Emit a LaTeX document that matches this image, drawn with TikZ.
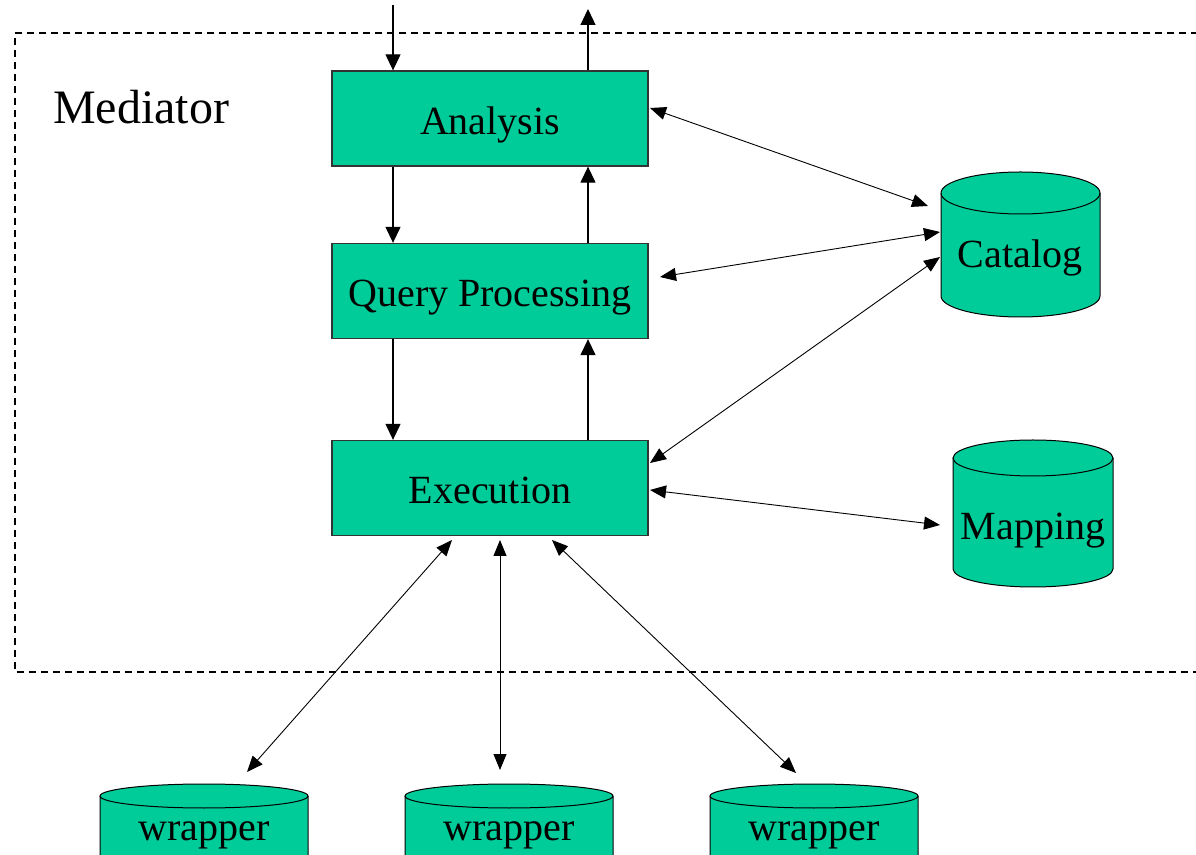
\documentclass[tikz,border=0pt]{standalone}
\usepackage{fontspec}
\setmainfont{Liberation Serif}
\usetikzlibrary{arrows.meta}
\definecolor{ppgreen}{HTML}{00CC99}
\newcommand\drumshape[5]{%
  \fill[ppgreen] (#1-#2,#4-#3) rectangle (#1+#2,#5+#3);
  \fill[ppgreen] (#1,#5+#3) ellipse[x radius=#2,y radius=#3];
  \fill[ppgreen] (#1,#4-#3) ellipse[x radius=#2,y radius=#3];
  \draw[line width=1pt] (#1-#2,#4-#3) -- (#1-#2,#5+#3)
     arc[start angle=180,end angle=360,x radius=#2,y radius=#3] -- (#1+#2,#4-#3);
  \draw[line width=1pt] (#1,#4-#3) ellipse[x radius=#2,y radius=#3];
}
\begin{document}
\begin{tikzpicture}[x=1pt,y=1pt,
  box/.style={draw=black!80, line width=1.3pt, fill=ppgreen, minimum width=316pt,
    minimum height=95pt, inner sep=0pt, font=\fontsize{40}{40}\selectfont,
    text height=32pt, text depth=0pt},
  lbl/.style={font=\fontsize{40}{40}\selectfont, anchor=base, inner sep=0pt},
  arr/.style={line width=1.2pt, -{Triangle[length=16pt,width=15pt]}},
  dbl/.style={line width=0.9pt, {Triangle[length=16pt,width=13pt]}-{Triangle[length=16pt,width=13pt]}}
]
\useasboundingbox (0,0) rectangle (1196,854);
\clip (0,0) rectangle (1196,854);

% mediator border
\draw[line width=1.1pt, dash pattern=on 7pt off 5pt] (1210,821) -- (15,821) -- (15,182) -- (1210,182);
\node[font=\fontsize{48}{48}\selectfont, anchor=base west, inner sep=0pt] (med) at (53,730) {Mediator};

% boxes
\node[box] (ana) at (490,735.5) {Analysis};
\node[box] (qp) at (490,563) {Query Processing};
\node[box] (exe) at (490,366) {Execution};

% cylinders
\drumshape{1020.5}{79.5}{21}{682}{537}
\node[lbl] (cat) at (1020,586) {Catalog};
\drumshape{1033}{80}{18}{414}{267}
\node[lbl] (map) at (1033,314) {Mapping};
\drumshape{204}{104}{12}{70}{-40}
\node[lbl] (w1) at (204,14) {wrapper};
\drumshape{509}{104}{12}{70}{-40}
\node[lbl] (w2) at (509,14) {wrapper};
\drumshape{814}{104}{12}{70}{-40}
\node[lbl] (w3) at (814,14) {wrapper};

% vertical flow
\coordinate (inTop) at (393,849);
\coordinate (outTop) at (588,845);
\draw[arr] (inTop) -- (ana.north -| inTop);
\draw[arr] (ana.north -| outTop) -- (outTop);
\draw[arr] (ana.south -| inTop) -- (qp.north -| inTop);
\draw[arr] (qp.north -| outTop) -- (ana.south -| outTop);
\draw[arr] (qp.south -| inTop) -- (exe.north -| inTop);
\draw[arr] (exe.north -| outTop) -- (qp.south -| outTop);

% links to catalog / mapping
\coordinate (a1) at (650,746);  \coordinate (c1) at (928,648);
\coordinate (q1) at (660,577);  \coordinate (c2) at (940,622);
\coordinate (e1) at (650,391);  \coordinate (c3) at (940,597);
\coordinate (e2) at (650,364);  \coordinate (m1) at (940,329);
\draw[dbl] (a1) -- (c1);
\draw[dbl] (q1) -- (c2);
\draw[dbl] (e1) -- (c3);
\draw[dbl] (e2) -- (m1);

% links to wrappers
\coordinate (e3) at (452,314); \coordinate (wt1) at (247,82);
\coordinate (e4) at (500,314); \coordinate (wt2) at (500,84);
\coordinate (e5) at (552,314); \coordinate (wt3) at (796,81);
\draw[dbl] (e3) -- (wt1);
\draw[dbl] (e4) -- (wt2);
\draw[dbl] (e5) -- (wt3);
\end{tikzpicture}
\end{document}
